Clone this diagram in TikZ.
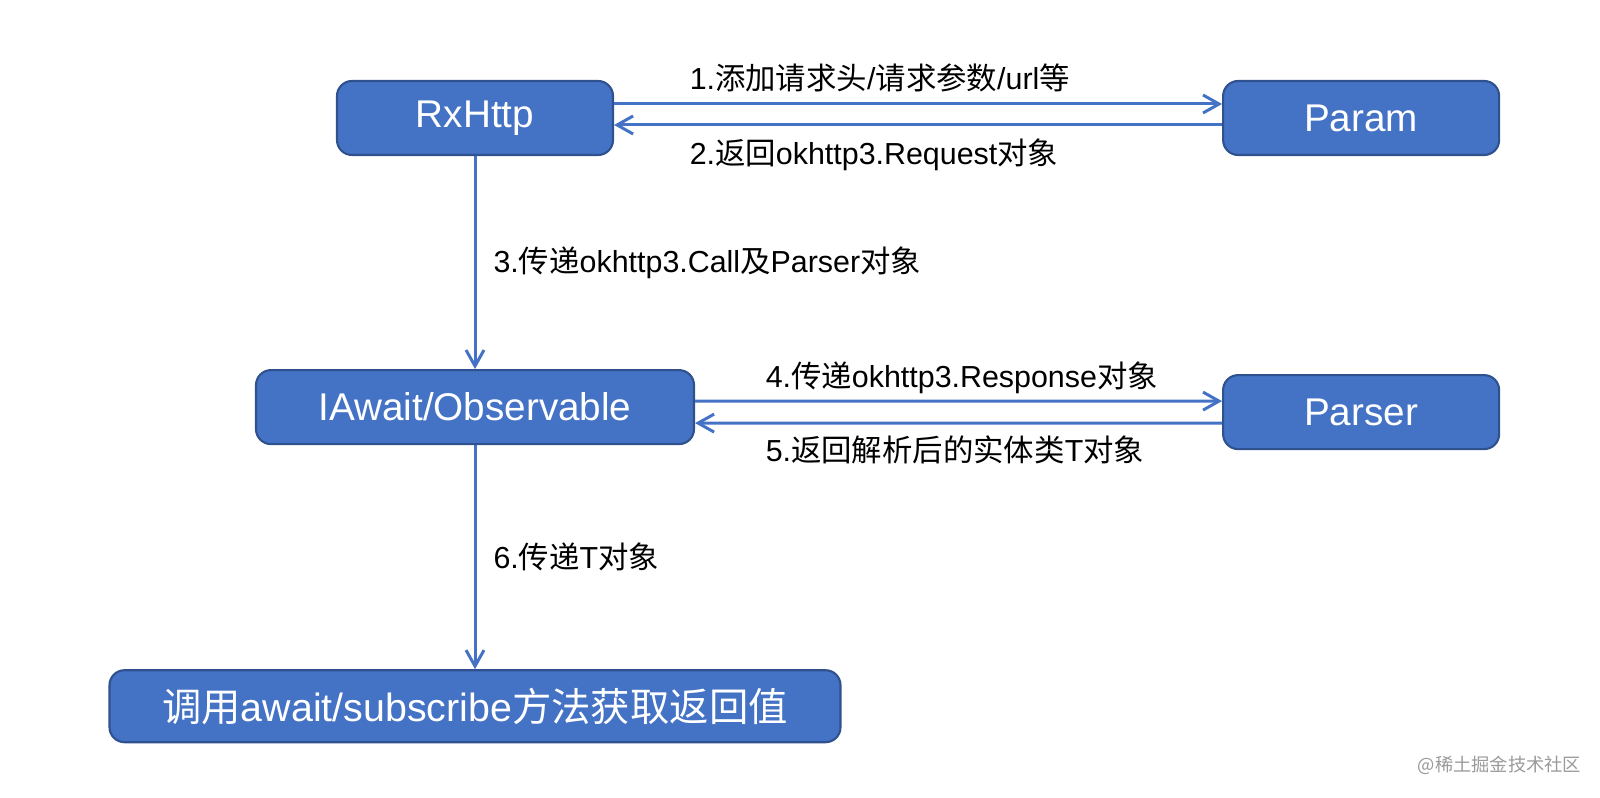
\documentclass[tikz,border=0pt]{standalone}
\usepackage{fontspec}
\setmainfont{Liberation Sans}
\newfontfamily\cjk{Noto Sans CJK SC}
\newcommand{\zh}[1]{{\cjk #1}}
\usepackage{tikz}
\usetikzlibrary{positioning}
\usetikzlibrary{arrows.meta}
\usepackage{xcolor}
\definecolor{boxblue}{HTML}{4472C4}
\definecolor{boxedge}{HTML}{2F528F}
\definecolor{markgray}{HTML}{9A9A9A}

\begin{document}
\begin{tikzpicture}[
  box/.style={draw=boxedge, line width=0.6pt, rounded corners=0.15cm, fill=boxblue, text=white, align=center, minimum width=2.76cm, minimum height=0.74cm, inner sep=0pt, font=\fontsize{11pt}{13pt}\selectfont},
  arrow/.style={-{Straight Barb[length=1.6mm, width=1.8mm]}, draw=boxblue, line width=0.85pt},
  lbl/.style={font=\fontsize{8.65pt}{10pt}\selectfont, inner sep=2pt}
]
\useasboundingbox (0,0) rectangle (16,-7.98);

\node[box] at (4.75,-1.18) (rx) {RxHttp};
\node[box, right=6.08cm of rx] (param) {Param};
\node[box, below=2.13cm of rx, minimum width=4.38cm] (await) {IAwait/Observable};
\node[box, right=5.27cm of await, yshift=-0.05cm] (parser) {Parser};
\node[box, below=2.24cm of await, minimum width=7.31cm, minimum height=0.72cm, font=\fontsize{11.2pt}{13pt}\selectfont] (call) {\zh{调用}await/subscribe\zh{方法获取返回值}};

\draw[arrow] ([yshift=1.4mm]rx.east) -- node[lbl, pos=0.127, anchor=south west, xshift=-1mm, yshift=0.3mm]{1.\zh{添加请求头}/\zh{请求参数}/url\zh{等}} ([yshift=1.4mm]param.west);
\draw[arrow] ([yshift=-0.7mm]param.west) -- node[lbl, pos=0.873, anchor=north west, xshift=-1mm, yshift=-0.5mm]{2.\zh{返回}okhttp3.Request\zh{对象}} ([yshift=-0.7mm]rx.east);
\draw[arrow] (rx.south) -- node[lbl, right=1mm]{3.\zh{传递}okhttp3.Call\zh{及}Parser\zh{对象}} (await.north);
\draw[arrow] ([yshift=0.6mm]await.east) -- node[lbl, pos=0.137, anchor=south west, xshift=-1mm, yshift=-0.1mm]{4.\zh{传递}okhttp3.Response\zh{对象}} ([yshift=1.1mm]parser.west);
\draw[arrow] ([yshift=-1.1mm]parser.west) -- node[lbl, pos=0.863, anchor=north west, xshift=-1mm, yshift=-0.4mm]{5.\zh{返回解析后的实体类}T\zh{对象}} ([yshift=-1.6mm]await.east);
\draw[arrow] (await.south) -- node[lbl, right=1mm]{6.\zh{传递}T\zh{对象}} (call.north);

% watermark
\node[text=markgray, font=\fontsize{5.2pt}{6pt}\selectfont, anchor=west, inner sep=0pt] (mark) at (14.17,-7.65) {\zh{@稀土掘金技术社区}};
\end{tikzpicture}
\end{document}
